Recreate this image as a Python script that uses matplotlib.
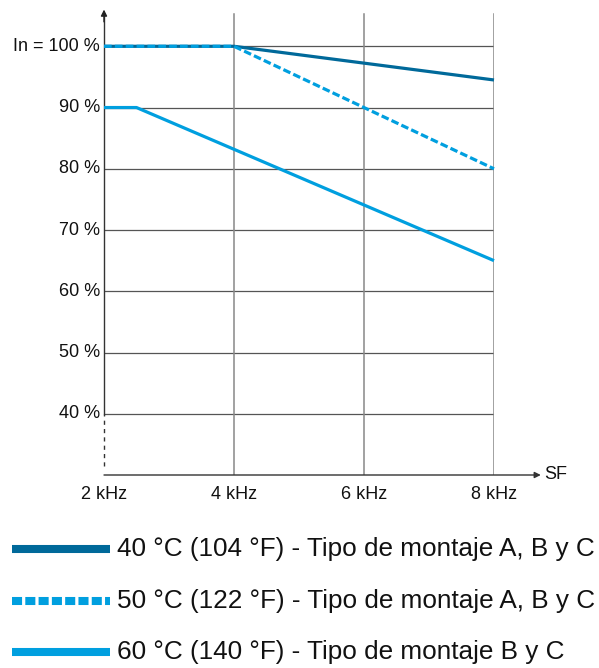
import matplotlib
matplotlib.use('Agg')
import matplotlib.pyplot as plt
from matplotlib.lines import Line2D

plt.rcParams['font.family'] = ['Liberation Sans', 'DejaVu Sans']

DARK = '#00699A'
LIGHT = '#009FDF'

# data (kHz, % of In)
x_40 = [2, 4, 8]
y_40 = [100, 100, 94.5]
x_50 = [2, 4, 8]
y_50 = [100, 100, 80]
x_60 = [2, 2.5, 8]
y_60 = [90, 90, 65]

x_ticks = [2, 4, 6, 8]
x_labels = ['2 kHz', '4 kHz', '6 kHz', '8 kHz']
y_ticks = [100, 90, 80, 70, 60, 50, 40]
y_labels = ['In = 100 %', '90 %', '80 %', '70 %', '60 %', '50 %', '40 %']
legend_labels = ['40 °C (104 °F) - Tipo de montaje A, B y C',
                 '50 °C (122 °F) - Tipo de montaje A, B y C',
                 '60 °C (140 °F) - Tipo de montaje B y C']

W, H = 599, 668
fig = plt.figure(figsize=(W / 100, H / 100), dpi=100)
ax = fig.add_axes([104 / W, 1 - 475 / H, 390 / W, 463 / H])
ax.set_xlim(2, 8)
ax.set_ylim(30, 105.6)
ax.axis('off')

# grid
for yv in y_ticks:
    ax.plot([2, 8], [yv, yv], color='#555555', lw=0.9, zorder=1)
for xv in x_ticks[1:]:
    ax.plot([xv, xv], [30, 105.2], color='#888888', lw=1.1, zorder=1)

# axes with arrows
ax.plot([2, 2], [40, 105], color='#333333', lw=1.0, zorder=2, clip_on=False)
ax.plot([2, 2], [31.5, 40], color='#333333', lw=1.0, ls=(0, (3, 3)), zorder=2, clip_on=False)
ax.annotate('', xy=(2, 106.0), xytext=(2, 104), xycoords='data',
            arrowprops=dict(arrowstyle='-|>', color='#222222', lw=1.0,
                            mutation_scale=9, shrinkA=0, shrinkB=0),
            annotation_clip=False)
ax.annotate('', xy=(8.72, 30), xytext=(2, 30), xycoords='data',
            arrowprops=dict(arrowstyle='-|>', color='#333333', lw=1.0,
                            mutation_scale=9, shrinkA=0, shrinkB=0),
            annotation_clip=False)

# curves
ax.plot(x_40, y_40, color=DARK, lw=2.3, solid_capstyle='butt', zorder=3, clip_on=False)
ax.plot(x_50, y_50, color=LIGHT, lw=2.3, dashes=(2.4, 1.0), dash_capstyle='butt',
        zorder=4, clip_on=False)
ax.plot(x_60, y_60, color=LIGHT, lw=2.3, solid_capstyle='butt', zorder=4, clip_on=False)

# tick labels
for yv, lab in zip(y_ticks, y_labels):
    ax.text(-4 / 65 + 2, yv, lab, ha='right', va='center', fontsize=13, color='#111111')
for xv, lab in zip(x_ticks, x_labels):
    ax.text(xv, 30 - 19 / 6.12, lab, ha='center', va='center', fontsize=13, color='#111111')
ax.text(2 + 452 / 65, 30, 'SF', ha='center', va='center', fontsize=13, color='#111111')

# legend
leg_y = [549, 601, 652]
styles = [dict(color=DARK), dict(color=LIGHT, dashes=(1.25, 0.4)), dict(color=LIGHT)]
for yp, lab, st in zip(leg_y, legend_labels, styles):
    yf = 1 - yp / H
    fig.add_artist(Line2D([12 / W, 110 / W], [yf, yf], lw=5.8,
                          solid_capstyle='butt', dash_capstyle='butt', **st))
    fig.text(117 / W, yf, lab, ha='left', va='center', fontsize=18.85, color='#111111')

fig.savefig('out.png', dpi=100)
